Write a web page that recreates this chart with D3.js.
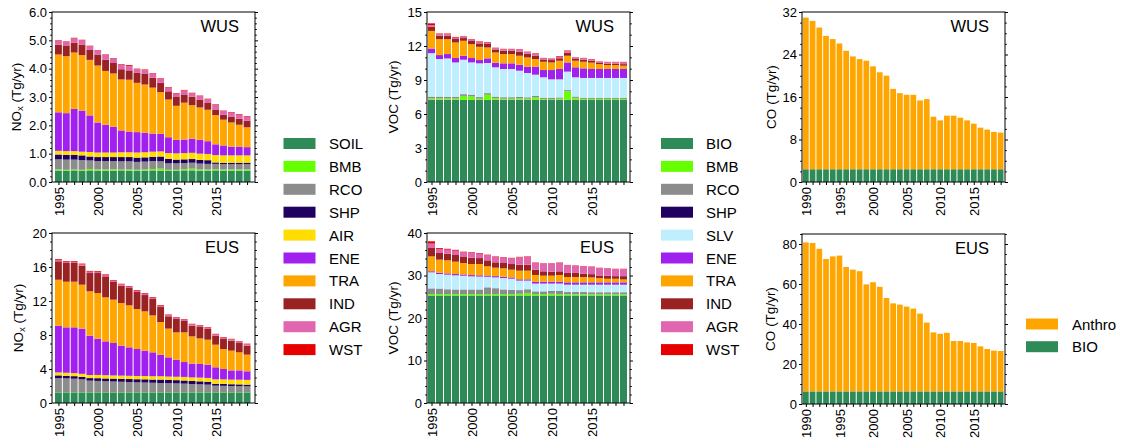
<!DOCTYPE html>
<html>
<head>
<meta charset="utf-8">
<script src="https://cdn.jsdelivr.net/npm/d3@7"></script>
<style>
  body { margin: 0; background: #fff; }
  svg { display: block; font-family: "Liberation Sans", Arial, sans-serif; }
</style>
</head>
<body>
<svg id="chart" width="1127" height="445"></svg>
<script>
// ---- categories ----
const years95 = d3.range(1995, 2020);
const years90 = d3.range(1990, 2020);
const noxKeys = ['SOIL', 'BMB', 'RCO', 'SHP', 'AIR', 'ENE', 'TRA', 'IND', 'AGR', 'WST'];
const vocKeys = ['BIO', 'BMB', 'RCO', 'SHP', 'SLV', 'ENE', 'TRA', 'IND', 'AGR', 'WST'];
const coKeys = ['BIO', 'Anthro'];

// ---- NOx, WUS (Tg/yr) ----
const noxWUS = {
  SOIL: [0.40,0.40,0.41,0.40,0.41,0.40,0.40,0.40,0.41,0.40,0.40,0.40,0.41,0.40,0.40,0.40,0.41,0.41,0.40,0.40,0.41,0.40,0.40,0.40,0.40],
  BMB:  [0.04,0.03,0.03,0.03,0.05,0.04,0.04,0.05,0.03,0.04,0.03,0.04,0.05,0.07,0.03,0.03,0.04,0.06,0.04,0.04,0.04,0.04,0.04,0.04,0.04],
  RCO:  [0.36,0.36,0.35,0.34,0.30,0.30,0.30,0.29,0.29,0.29,0.28,0.28,0.28,0.26,0.23,0.23,0.22,0.21,0.21,0.20,0.19,0.19,0.19,0.19,0.19],
  SHP:  [0.17,0.17,0.17,0.17,0.14,0.14,0.14,0.14,0.15,0.15,0.15,0.15,0.15,0.17,0.16,0.13,0.13,0.13,0.13,0.13,0.05,0.05,0.05,0.05,0.05],
  AIR:  [0.13,0.13,0.13,0.13,0.16,0.16,0.16,0.16,0.17,0.17,0.18,0.18,0.18,0.18,0.20,0.22,0.22,0.22,0.22,0.22,0.26,0.26,0.26,0.26,0.26],
  ENE:  [1.36,1.34,1.49,1.45,1.29,1.06,0.98,0.91,0.77,0.73,0.72,0.69,0.64,0.62,0.56,0.48,0.48,0.50,0.49,0.45,0.38,0.35,0.31,0.31,0.29],
  TRA:  [2.04,2.01,1.99,1.96,1.96,2.01,1.90,1.88,1.80,1.83,1.74,1.70,1.62,1.47,1.33,1.20,1.30,1.18,1.14,1.11,1.03,0.91,0.85,0.77,0.70],
  IND:  [0.35,0.38,0.35,0.37,0.35,0.39,0.40,0.37,0.36,0.33,0.35,0.39,0.35,0.33,0.29,0.31,0.29,0.30,0.28,0.24,0.20,0.17,0.21,0.21,0.23],
  AGR:  [0.13,0.12,0.15,0.15,0.13,0.13,0.16,0.15,0.16,0.16,0.13,0.12,0.14,0.14,0.13,0.12,0.14,0.12,0.12,0.13,0.16,0.13,0.14,0.15,0.15],
  WST:  [0.02,0.02,0.02,0.02,0.02,0.02,0.02,0.02,0.02,0.03,0.02,0.02,0.02,0.02,0.02,0.02,0.02,0.02,0.02,0.02,0.02,0.02,0.02,0.02,0.02]
};

// ---- NOx, EUS ----
const noxEUS = {
  SOIL: [1.25,1.25,1.25,1.25,1.25,1.25,1.25,1.25,1.25,1.25,1.25,1.25,1.25,1.25,1.25,1.25,1.25,1.25,1.25,1.25,1.25,1.25,1.25,1.25,1.25],
  BMB:  [0.03,0.03,0.03,0.03,0.03,0.03,0.03,0.03,0.03,0.03,0.03,0.03,0.03,0.03,0.03,0.03,0.03,0.03,0.03,0.03,0.03,0.03,0.03,0.03,0.03],
  RCO:  [1.66,1.62,1.58,1.50,1.35,1.32,1.28,1.25,1.22,1.18,1.15,1.13,1.10,1.07,1.05,1.03,1.00,0.95,0.92,0.88,0.76,0.74,0.72,0.70,0.68],
  SHP:  [0.31,0.30,0.30,0.30,0.30,0.32,0.33,0.34,0.35,0.36,0.37,0.38,0.38,0.40,0.40,0.38,0.37,0.36,0.35,0.34,0.22,0.22,0.21,0.21,0.20],
  AIR:  [0.35,0.36,0.36,0.35,0.36,0.38,0.38,0.37,0.37,0.38,0.38,0.38,0.39,0.40,0.38,0.40,0.42,0.42,0.44,0.45,0.52,0.54,0.54,0.55,0.56],
  ENE:  [5.50,5.34,5.38,5.32,4.63,4.27,3.98,3.82,3.53,3.35,3.17,2.99,2.81,2.54,2.26,2.01,1.75,1.62,1.60,1.56,1.42,1.22,1.09,1.10,1.01],
  TRA:  [5.40,5.37,5.37,5.17,5.22,5.37,5.18,5.10,5.01,4.94,4.71,4.62,4.35,3.84,3.38,3.21,3.49,3.21,3.01,2.94,2.66,2.35,2.32,2.12,1.96],
  IND:  [2.17,2.20,2.20,2.24,2.15,2.35,2.47,2.08,2.04,2.04,2.00,1.92,1.93,1.76,1.45,1.57,1.34,1.26,1.34,1.26,1.06,1.18,1.17,1.10,1.06],
  AGR:  [0.15,0.14,0.14,0.15,0.16,0.15,0.15,0.14,0.15,0.15,0.15,0.16,0.15,0.15,0.14,0.15,0.15,0.15,0.15,0.15,0.15,0.16,0.15,0.15,0.16],
  WST:  [0.10,0.09,0.09,0.09,0.09,0.09,0.08,0.08,0.08,0.08,0.08,0.08,0.08,0.08,0.07,0.07,0.07,0.07,0.07,0.07,0.07,0.07,0.07,0.07,0.07]
};

// ---- VOC, WUS ----
const vocWUS = {
  BIO: [7.25,7.25,7.25,7.25,7.25,7.25,7.25,7.25,7.25,7.25,7.25,7.25,7.25,7.25,7.25,7.25,7.25,7.25,7.25,7.25,7.25,7.25,7.25,7.25,7.25],
  BMB: [0.12,0.12,0.12,0.12,0.35,0.30,0.10,0.45,0.15,0.10,0.10,0.12,0.10,0.22,0.08,0.06,0.10,0.75,0.18,0.08,0.08,0.08,0.08,0.08,0.08],
  RCO: [0.15,0.15,0.14,0.14,0.14,0.14,0.13,0.13,0.12,0.12,0.12,0.12,0.11,0.11,0.10,0.10,0.10,0.10,0.10,0.09,0.09,0.09,0.09,0.09,0.09],
  SHP: [0.01,0.01,0.01,0.01,0.01,0.01,0.01,0.01,0.01,0.01,0.01,0.01,0.01,0.01,0.01,0.01,0.01,0.01,0.01,0.01,0.01,0.01,0.01,0.01,0.01],
  SLV: [3.84,3.32,3.38,3.03,3.04,2.85,2.98,2.66,2.59,2.49,2.49,2.32,2.15,1.88,1.80,1.64,1.60,1.63,1.70,1.75,1.75,1.75,1.75,1.75,1.75],
  ENE: [0.41,0.35,0.39,0.39,0.35,0.39,0.29,0.41,0.41,0.50,0.50,0.53,0.56,0.71,0.64,0.82,0.91,0.81,0.88,0.85,0.79,0.79,0.79,0.79,0.79],
  TRA: [1.55,1.40,1.31,1.37,1.32,1.22,1.17,0.96,0.90,0.82,0.82,0.79,0.81,0.67,0.73,0.67,0.73,0.59,0.58,0.58,0.56,0.44,0.35,0.35,0.29],
  IND: [0.38,0.32,0.32,0.31,0.24,0.28,0.30,0.31,0.27,0.30,0.30,0.36,0.32,0.31,0.20,0.21,0.22,0.26,0.16,0.18,0.16,0.10,0.12,0.12,0.14],
  AGR: [0.14,0.12,0.12,0.12,0.10,0.11,0.12,0.12,0.11,0.12,0.12,0.15,0.14,0.14,0.10,0.10,0.12,0.14,0.10,0.12,0.12,0.11,0.13,0.13,0.16],
  WST: [0.15,0.06,0.06,0.06,0.05,0.05,0.05,0.05,0.04,0.04,0.04,0.05,0.05,0.05,0.04,0.04,0.06,0.06,0.04,0.04,0.04,0.03,0.03,0.03,0.04]
};

// ---- VOC, EUS ----
const vocEUS = {
  BIO: [25.3,25.3,25.3,25.3,25.3,25.3,25.3,25.3,25.3,25.3,25.3,25.3,25.3,25.3,25.3,25.3,25.3,25.3,25.3,25.3,25.3,25.3,25.3,25.3,25.3],
  BMB: [0.35,0.35,0.35,0.35,0.35,0.35,0.35,0.35,0.35,0.35,0.35,0.40,0.60,0.35,0.35,0.40,0.35,0.30,0.30,0.30,0.30,0.30,0.30,0.30,0.30],
  RCO: [1.25,1.20,1.05,1.00,1.00,1.00,1.00,1.50,1.30,1.00,0.90,0.80,0.80,0.55,0.55,0.60,0.65,0.45,0.45,0.45,0.40,0.40,0.40,0.40,0.40],
  SHP: [0.05,0.05,0.05,0.05,0.05,0.05,0.05,0.05,0.05,0.05,0.05,0.05,0.05,0.05,0.05,0.05,0.05,0.05,0.05,0.05,0.05,0.05,0.05,0.05,0.05],
  SLV: [3.80,3.45,3.45,3.34,3.25,3.10,3.05,2.50,2.55,2.70,2.65,2.25,2.05,1.85,1.85,1.75,1.75,1.74,1.74,1.74,1.79,1.79,1.79,1.79,1.79],
  ENE: [0.25,0.30,0.30,0.30,0.30,0.30,0.30,0.30,0.30,0.30,0.30,0.30,0.30,0.45,0.45,0.45,0.45,0.55,0.55,0.55,0.55,0.55,0.55,0.55,0.55],
  TRA: [3.50,3.08,3.07,2.91,2.69,2.60,2.65,2.16,1.99,1.99,1.82,2.04,2.04,1.57,1.41,1.41,1.57,1.26,1.26,1.26,1.16,0.99,0.84,0.84,0.68],
  IND: [1.97,1.57,1.57,1.57,1.41,1.50,1.40,1.41,1.26,1.25,1.33,1.41,1.41,1.25,1.02,0.94,0.86,0.95,0.95,0.78,0.77,0.63,0.70,0.62,0.78],
  AGR: [1.03,0.94,0.94,1.02,1.10,1.10,1.04,1.18,1.25,1.26,1.34,1.72,1.80,1.57,1.80,1.88,1.96,1.79,1.71,1.73,1.73,1.73,1.72,1.65,1.65],
  WST: [0.55,0.20,0.20,0.20,0.15,0.15,0.15,0.15,0.12,0.12,0.12,0.12,0.12,0.10,0.10,0.10,0.10,0.10,0.08,0.08,0.08,0.08,0.08,0.08,0.08]
};

// ---- CO, WUS / EUS ----
const coWUS = {
  BIO:    [2.4,2.4,2.4,2.4,2.4,2.4,2.4,2.4,2.4,2.4,2.4,2.4,2.4,2.4,2.4,2.4,2.4,2.4,2.4,2.4,2.4,2.4,2.4,2.4,2.4,2.4,2.4,2.4,2.4,2.4],
  Anthro: [28.54,27.92,26.67,25.10,24.50,23.68,22.30,21.24,20.74,20.43,19.37,18.25,17.62,15.13,14.32,14.01,14.01,12.95,13.20,9.89,9.20,10.08,10.08,9.70,9.20,8.58,7.83,7.46,7.02,6.90]
};
const coEUS = {
  BIO:    [6.3,6.3,6.3,6.3,6.3,6.3,6.3,6.3,6.3,6.3,6.3,6.3,6.3,6.3,6.3,6.3,6.3,6.3,6.3,6.3,6.3,6.3,6.3,6.3,6.3,6.3,6.3,6.3,6.3,6.3],
  Anthro: [74.5,74.2,71.3,66.2,67.5,67.9,62.2,60.9,60.1,53.5,54.6,52.3,46.7,44.0,43.4,42.4,41.4,38.9,34.4,29.5,28.8,29.3,25.2,25.2,24.5,24.2,22.5,21.2,20.4,20.2]
};

const colors = {
  SOIL: '#2e8b57', BIO: '#2e8b57', BMB: '#66ff00', RCO: '#8c8c8c', SHP: '#200060',
  AIR: '#ffdd00', SLV: '#bfefff', ENE: '#a020f0', TRA: '#ffa500', IND: '#9a2222',
  AGR: '#e066b0', WST: '#e60000', Anthro: '#ffa500'
};

// ---- layout ----
const svg = d3.select('#chart');
const W = 203, H = 170;
const panels = [
  { data: noxWUS, keys: noxKeys, years: years95, x: 52,  y: 12,  ymax: 6,  major: 1,  minor: 0.2, fmt: d3.format('.1f'), gas: 'NOx', region: 'WUS', pad: [2.5, 4], labOff: -36 },
  { data: noxEUS, keys: noxKeys, years: years95, x: 52,  y: 233, ymax: 20, major: 4,  minor: 1,   fmt: d3.format('d'),   gas: 'NOx', region: 'EUS', pad: [2.5, 4], labOff: -34 },
  { data: vocWUS, keys: vocKeys, years: years95, x: 427, y: 12,  ymax: 15, major: 3,  minor: 1,   fmt: d3.format('d'),   gas: 'VOC', region: 'WUS', pad: [0.5, 2.5], labOff: -34 },
  { data: vocEUS, keys: vocKeys, years: years95, x: 427, y: 233, ymax: 40, major: 10, minor: 2,   fmt: d3.format('d'),   gas: 'VOC', region: 'EUS', pad: [0.5, 2.5], labOff: -34 },
  { data: coWUS,  keys: coKeys,  years: years90, x: 802, y: 12,  ymax: 32, major: 8,  minor: 2,   fmt: d3.format('d'),   gas: 'CO',  region: 'WUS', pad: [0.5, 1], labOff: -31 },
  { data: coEUS,  keys: coKeys,  years: years90, x: 802, y: 234, ymax: 85, major: 20, minor: 5,   fmt: d3.format('d'),   gas: 'CO',  region: 'EUS', pad: [0.5, 1], labOff: -32, yTop: 80 }
];

panels.forEach(p => {
  const g = svg.append('g').attr('transform', `translate(${p.x},${p.y})`);
  const first = p.years[0], last = p.years[p.years.length - 1];
  const x = d3.scaleLinear().domain([first - 0.5, last + 0.5]).range([p.pad[0], W - p.pad[1]]);
  const y = d3.scaleLinear().domain([0, p.ymax]).range([H, 0]);
  const step = x(first + 1) - x(first);

  const rows = p.years.map((yr, i) => {
    const r = { year: yr };
    p.keys.forEach(k => { r[k] = p.data[k][i]; });
    return r;
  });
  const series = d3.stack().keys(p.keys)(rows);

  g.selectAll('g.layer').data(series).join('g')
    .attr('class', 'layer')
    .attr('fill', d => colors[d.key])
    .selectAll('rect').data(d => d).join('rect')
      .attr('x', d => x(d.data.year) - step / 2 + 0.5)
      .attr('width', step - 1)
      .attr('y', d => y(d[1]))
      .attr('height', d => Math.max(0, y(d[0]) - y(d[1])));

  const majors = d3.range(0, (p.yTop || p.ymax) + 1e-9, p.major);
  const minors = d3.range(0, p.ymax + 1e-9, p.minor).filter(v => !majors.some(m => Math.abs(m - v) < 1e-9));

  // left axis
  g.append('g')
    .call(d3.axisLeft(y).tickValues(majors).tickSize(3).tickPadding(2).tickFormat(p.fmt));
  g.append('g')
    .call(d3.axisLeft(y).tickValues(minors).tickSize(1.8).tickFormat(''));
  // right axis
  const right = g.append('g').attr('transform', `translate(${W},0)`);
  right.call(d3.axisRight(y).tickValues(majors).tickSize(3).tickFormat(''));
  right.append('g').call(d3.axisRight(y).tickValues(minors).tickSize(1.8).tickFormat(''));

  // bottom axis
  const bottom = g.append('g').attr('transform', `translate(0,${H})`)
    .call(d3.axisBottom(x).tickValues(p.years).tickSize(3)
      .tickFormat(d => d % 5 === 0 ? d : ''));
  bottom.selectAll('text')
    .attr('transform', 'rotate(-90)')
    .attr('text-anchor', 'end')
    .attr('x', -5)
    .attr('y', 0)
    .attr('dy', '0.36em');

  g.selectAll('.domain').remove();
  g.selectAll('.tick line').attr('stroke', '#000');
  g.selectAll('.tick text').attr('font-size', 13).attr('font-family', '"Liberation Sans", Arial, sans-serif').attr('fill', '#000');

  // frame
  g.append('rect').attr('width', W).attr('height', H)
    .attr('fill', 'none').attr('stroke', '#000').attr('stroke-width', 1);

  // region tag
  g.append('text').attr('x', W - 16).attr('y', 20)
    .attr('text-anchor', 'end').attr('font-size', 16.5).text(p.region);

  // y label
  const lab = g.append('text')
    .attr('transform', `translate(${p.labOff},${H / 2}) rotate(-90)`)
    .attr('text-anchor', 'middle')
    .attr('dominant-baseline', 'central')
    .attr('font-size', 13.5);
  if (p.gas === 'NOx') {
    lab.append('tspan').text('NO');
    lab.append('tspan').attr('font-size', 9.5).attr('dy', 3).text('x');
    lab.append('tspan').attr('dy', -3).text(' (Tg/yr)');
  } else {
    lab.text(`${p.gas} (Tg/yr)`);
  }
});

// ---- legends ----
function legend(keys, sx, tx, y0, dy) {
  const lg = svg.append('g');
  const item = lg.selectAll('g').data(keys).join('g')
    .attr('transform', (d, i) => `translate(0,${y0 + i * dy})`);
  item.append('rect').attr('x', sx).attr('y', -5.5).attr('width', 32).attr('height', 11)
    .attr('fill', d => colors[d]);
  item.append('text').attr('x', tx).attr('y', 0).attr('dominant-baseline', 'central')
    .attr('font-size', 15).text(d => d);
}
legend(noxKeys, 283.5, 329, 143.5, 22.9);
legend(vocKeys, 661, 706, 143.5, 22.9);
legend(['Anthro', 'BIO'], 1026, 1072, 324, 22.7);
</script>
</body>
</html>
